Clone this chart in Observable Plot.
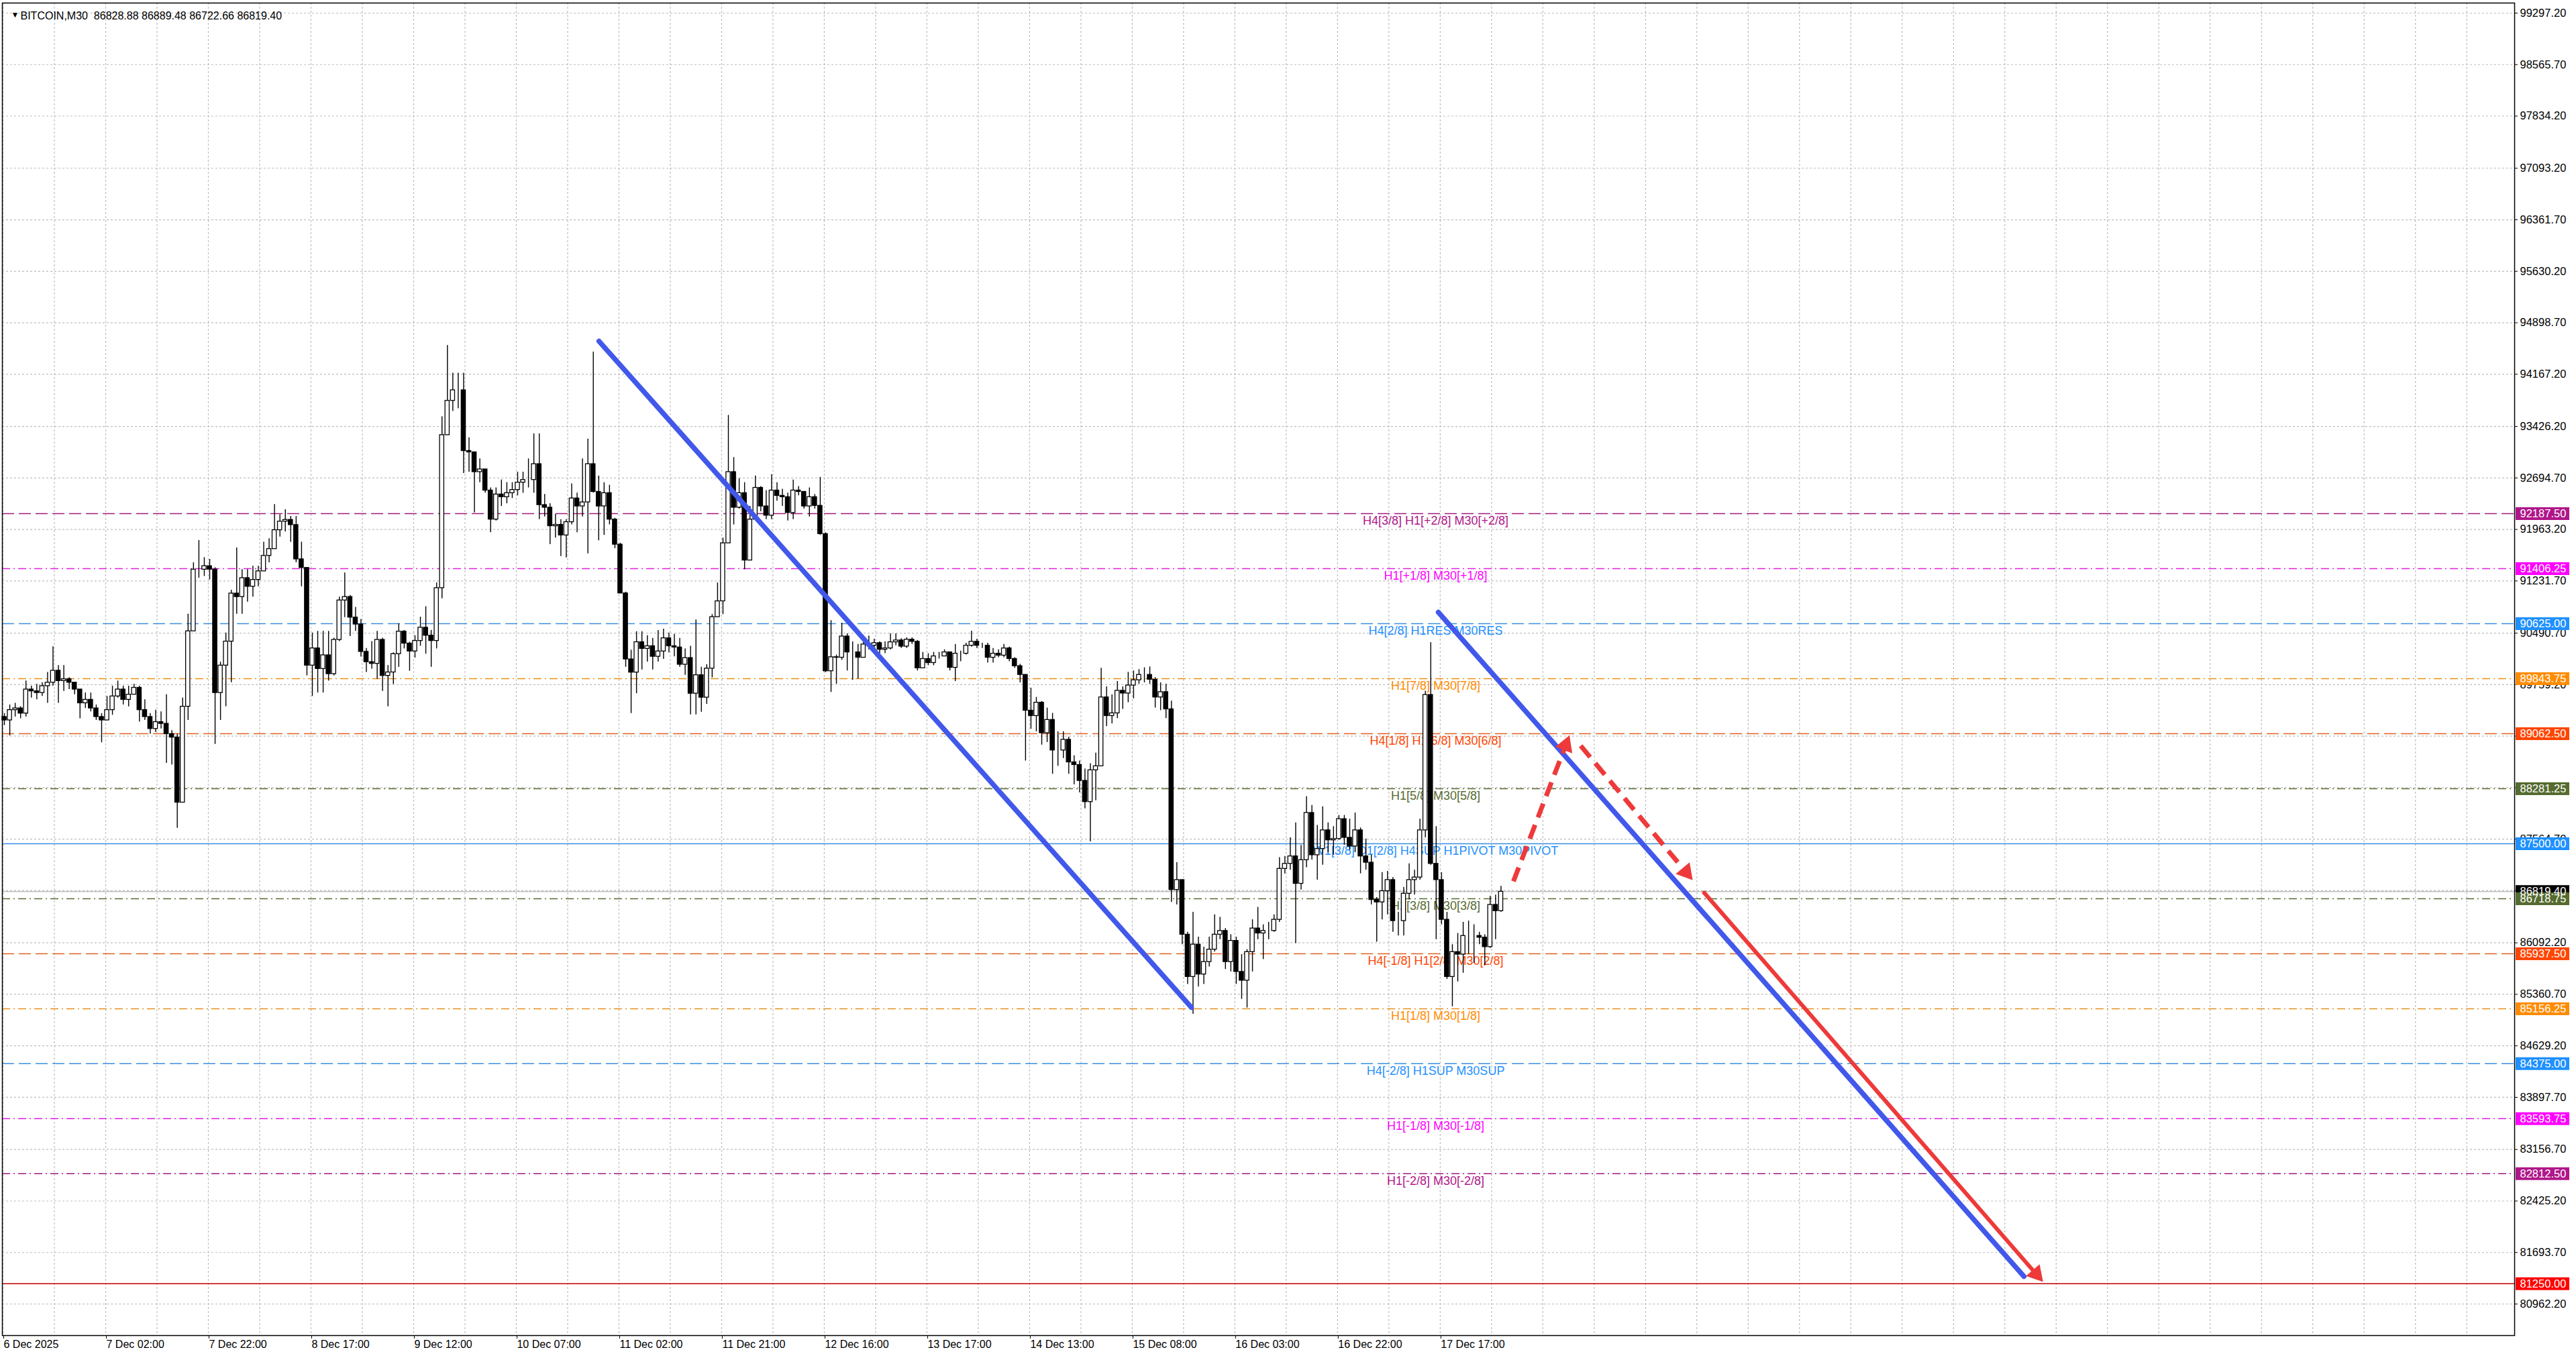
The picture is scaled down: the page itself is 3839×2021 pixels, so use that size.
<!DOCTYPE html>
<html><head><meta charset="utf-8">
<script src="https://cdn.jsdelivr.net/npm/d3@7"></script>
<script src="https://cdn.jsdelivr.net/npm/@observablehq/plot@0.6"></script>
<style>
html,body{margin:0;padding:0;background:#fff;}
body{width:3839px;height:2021px;overflow:hidden;}
</style></head><body><div id="chart"></div>
<script>
// ---------- DATA (H1 candles; open = previous close) ----------
const firstOpen = 89301;
const close = [
89253,89399,89423,89350,89691,89666,89642,89739,89788,89958,
89812,89837,89788,89691,89496,89545,89423,89301,89253,89399,
89593,89691,89545,89618,89715,89399,89301,89131,89228,89204,
89058,89009,88085,89447,90518,91394,91394,91443,91394,89642,
90031,90372,91054,91005,91273,91151,91248,91370,91589,91686,
91954,92076,92100,92027,91540,91418,90031,90275,89983,90177,
89910,90396,90956,91005,90713,90615,90226,90080,90056,90396,
89885,89934,90194,90513,90344,90232,90381,90569,90456,90381,
91131,93304,93791,93941,93941,93079,93060,92779,92817,92517,
92105,92461,92423,92480,92525,92630,92667,92667,92892,92311,
92274,92011,92030,91880,92068,92405,92292,92349,92892,92498,
92292,92480,92105,91749,91056,90119,89932,90363,90269,90306,
90157,90232,90419,90306,90288,90044,90138,89632,89894,89576,
89988,90719,90944,91768,92779,92274,92480,91524,92105,92555,
92292,92161,92517,92442,92423,92199,92517,92498,92292,92423,
92300,91899,89951,90150,90143,90444,90219,90219,90143,90331,
90313,90350,90256,90275,90362,90388,90301,90399,90369,89993,
90125,90068,90162,90162,90219,90000,90200,90200,90313,90369,
90313,90313,90143,90200,90173,90275,90125,90023,89899,89391,
89315,89504,89071,89259,88826,88826,88977,88657,88619,88394,
88093,88544,88601,89579,89315,89353,89673,89635,89748,89823,
89899,89899,89831,89579,89654,89410,86844,86985,86209,85609,
86068,85644,85821,85997,86209,86262,85821,86121,85680,85556,
85962,86297,86227,86262,86262,86421,87144,87215,87321,86932,
87268,87938,87338,87426,87691,87550,87568,87850,87585,87462,
87691,87321,87232,86703,86668,86827,86985,86403,86403,86791,
86985,87021,87691,89614,87215,86985,86421,85609,85962,85927,
86191,86191,86191,86167,86033,86632,86544,86819.4];
const high = [
89350,89472,89496,89447,89812,89739,89764,89788,89934,90299,
90031,90031,89861,89788,89691,89642,89642,89472,89350,89593,
89739,89812,89739,89739,89764,89739,89545,89350,89399,89374,
89618,89107,89058,89569,90761,91492,91808,91565,91540,91420,
90080,90494,91102,91701,91394,91394,91443,91443,91784,91832,
92319,92173,92246,92149,92149,91784,91418,90494,90518,90518,
90518,90421,91005,91346,91029,90859,90688,90275,90372,90518,
90421,90031,90213,90625,90531,90363,90456,90719,90868,90531,
91206,93566,94578,94185,94185,94185,93267,93042,92967,92817,
92555,92555,92667,92630,92630,92779,92779,92967,93323,93323,
92461,92330,92180,92105,92105,92611,92480,92967,93248,94484,
92723,92630,92592,92124,91768,91075,90250,90513,90513,90456,
90419,90531,90550,90494,90475,90419,90269,90306,90681,90007,
90044,90756,91206,91843,93585,92986,92686,92630,92292,92723,
92573,92517,92742,92630,92536,92480,92667,92573,92480,92555,
92461,92704,91918,90670,90181,90633,90482,90369,90331,90407,
90452,90407,90369,90369,90482,90482,90414,90426,90426,90388,
90219,90200,90219,90219,90256,90219,90331,90237,90350,90520,
90407,90350,90350,90275,90256,90331,90294,90143,90049,89899,
89711,89579,89522,89428,89353,89090,89090,89014,88751,88676,
88563,88638,88789,89993,89729,89616,89805,89729,89936,89955,
89974,90000,90012,89861,89786,89767,89526,87232,86985,86244,
86527,86174,86033,86174,86491,86456,86297,86209,86174,85927,
85997,86421,86597,86350,86385,86491,87303,87321,87585,87797,
87479,88168,88044,87762,88026,87797,87744,87903,87903,87850,
87938,87726,87568,87338,86738,87091,87109,87021,86527,86879,
87215,87126,87850,89667,90356,87744,87091,86527,86068,86227,
86385,86403,86350,86244,86209,86756,86774,86897];
const low = [
89180,89034,89301,89277,89301,89569,89545,89593,89496,89739,
89496,89666,89691,89618,89277,89423,89374,89253,88936,89301,
89326,89569,89472,89447,89642,89228,89253,89058,89082,89131,
88644,88620,87720,88085,89253,90713,91273,91297,91248,88912,
89253,89447,89788,90761,90761,90932,91005,91151,91394,91492,
91711,91857,91930,91784,91492,91151,89885,89593,89642,89642,
89812,89885,90372,90713,90445,90518,90153,89934,89983,89837,
89666,89447,89763,90007,90269,89951,90138,90306,90194,90007,
90269,90981,93304,93641,93679,92761,92779,92199,92630,92480,
91918,92086,92292,92330,92405,92442,92480,92555,92480,92105,
92143,91749,91843,91580,91562,92030,91918,92143,91618,92480,
91805,91880,92030,91693,91056,90007,89351,89632,89969,90082,
89969,90082,90119,90213,90157,90007,89894,89332,89332,89370,
89482,89857,90719,90756,91768,92030,92255,91393,91524,92105,
92217,92105,92105,92367,92292,92086,92105,92442,92255,92143,
92255,91880,89932,89650,89767,90106,89955,89823,89842,90143,
90256,90275,90181,90200,90256,90313,90275,90275,90331,89955,
89990,90030,90030,90125,90162,89955,89805,90087,90181,90294,
90275,90275,90068,90068,90143,90143,90087,89993,89786,88676,
89127,89090,88902,88939,88488,88601,88713,88488,88337,88224,
87998,87528,88111,88601,89165,89203,89278,89410,89504,89560,
89767,89786,89767,89428,89391,89278,86668,86632,86068,85503,
85080,85468,85503,85750,85962,86138,85715,85680,85503,85291,
85168,85680,86138,85856,86138,86244,86385,87074,87126,86085,
86844,87162,87268,86985,87197,87374,87338,87550,87479,87409,
87374,87074,87126,86632,86103,86421,86491,86244,86191,86191,
86703,86774,86985,87585,87197,86138,86350,85574,85186,85538,
85662,85927,85803,86068,85768,86015,86138,86527];

const headerSymbol = "BITCOIN,M30";
const headerOHLC = [86828.88, 86889.48, 86722.66, 86819.40];

const yTicks = [99297.20,98565.70,97834.20,97093.20,96361.70,95630.20,94898.70,94167.20,93426.20,
  92694.70,91963.20,91231.70,90490.70,89759.20,89027.70,88296.20,87564.70,86833.20,86092.20,
  85360.70,84629.20,83897.70,83156.70,82425.20,81693.70,80962.20];

const timeLabels = ["6 Dec 2025","7 Dec 02:00","7 Dec 22:00","8 Dec 17:00","9 Dec 12:00","10 Dec 07:00",
  "11 Dec 02:00","11 Dec 21:00","12 Dec 16:00","13 Dec 17:00","14 Dec 13:00","15 Dec 08:00",
  "16 Dec 03:00","16 Dec 22:00","17 Dec 17:00"];
const timeLabelBars = [0,38,76,114,152,190,228,266,304,342,380,418,456,494,532]; // M30 bar index
const gridBars = d3.range(0, 930, 19);

const levelPrices = [92187.50,91406.25,90625.00,89843.75,89062.50,88281.25,87500.00,86718.75,85937.50,85156.25,84375.00,83593.75,82812.50,81250.00];
const levelNames = ["H4[3/8] H1[+2/8] M30[+2/8]","H1[+1/8] M30[+1/8]","H4[2/8] H1RES M30RES","H1[7/8] M30[7/8]",
  "H4[1/8] H1[6/8] M30[6/8]","H1[5/8] M30[5/8]","W1[3/8] D1[2/8] H4SUP H1PIVOT M30PIVOT","H1[3/8] M30[3/8]",
  "H4[-1/8] H1[2/8] M30[2/8]","H1[1/8] M30[1/8]","H4[-2/8] H1SUP M30SUP","H1[-1/8] M30[-1/8]","H1[-2/8] M30[-2/8]",""];
const levelColors = ["#B0168A","#FF00FF","#1E90FF","#FF8C00","#FF4500","#556B2F","#1E90FF","#556B2F","#FF4500","#FF8C00","#1E90FF","#FF00FF","#B0168A","#FF0000"];
const levelLineColors = ["#A0187E","#E020E0","#3A8FE0","#E8901A","#E0601E","#556B2F","#3A8FE0","#556B2F","#E0601E","#E8901A","#3A8FE0","#E020E0","#A0187E","#C00000"];
const levelStyles = ["dash","dashdot","dash","dashdot","dash","dashdot","solid","dashdot","dash","dashdot","dash","dashdot","dashdot","solid"];

// drawn objects: (M30 bar index, price) anchors
const trendBar1 = [220.6, 531.3], trendPrice1 = [94637, 90787];
const trendBar2 = [439.9, 748.1], trendPrice2 = [85174, 81353];
const arrowBar1 = [559.1, 584.0, 629.7], arrowPrice1 = [86966, 88891, 86804];
const arrowBar2 = [579.7, 625.2, 754.9], arrowPrice2 = [89024, 86994, 81287];
const arrowDashed = [true, true, false];

// ---------- LAYOUT ----------
const W = 3839, H = 2021;
const mL = 3, mR = 92, mT = 4, mB = 31;
const xDomain = [-0.25, 929.7];
const yDomain = [80514.3, 99440.1];
const plotW = W - mL - mR, plotH = H - mT - mB;
const kx = plotW / (xDomain[1] - xDomain[0]);
const ky = plotH / (yDomain[1] - yDomain[0]);
const AXIS_FONT = "'Liberation Sans',Arial,sans-serif";
const LABEL_FONT = "'Liberation Sans',Arial,sans-serif";
const BLUE = "#4258EA", RED = "#EE3A3A";
const fmt = d3.format(".2f");

const candles = close.map((c, j) => {
  const o = j === 0 ? firstOpen : close[j - 1];
  return {bar: 2 * j + 0.5, o, c, h: Math.max(high[j], o, c), l: Math.min(low[j], o, c)};
});
const lastBar = candles[candles.length - 1].bar;
const lastClose = close[close.length - 1];
const labelBar = lastBar - 24.2;

const levels = levelPrices.map((p, i) => ({p, name: levelNames[i], color: levelColors[i], line: levelLineColors[i], style: levelStyles[i]}));
const boxes = [{p: lastClose, color: "#000000"}, ...levels.map(d => ({p: d.p, color: d.color}))];

const trends = trendBar1.map((b, i) => ({b1: b, p1: trendPrice1[i], b2: trendBar2[i], p2: trendPrice2[i]}));
const arrows = arrowBar1.map((b, i) => {
  const a = {b1: b, p1: arrowPrice1[i], b2: arrowBar2[i], p2: arrowPrice2[i], dashed: arrowDashed[i]};
  const dx = (a.b2 - a.b1) * kx, dy = -(a.p2 - a.p1) * ky;
  const len = Math.hypot(dx, dy), ux = dx / len, uy = dy / len;
  const back = 14;
  a.hb = a.b2 - ux * back / kx;
  a.hp = a.p2 + uy * back / ky;
  const sb = 16;
  a.sb = a.b2 - ux * sb / kx;
  a.sp = a.p2 + uy * sb / ky;
  a.angle = Math.atan2(dx, -dy) * 180 / Math.PI;
  return a;
});

const labelMap = new Map(timeLabelBars.map((b, i) => [b, timeLabels[i]]));
const header = headerSymbol + "\u00A0\u00A0" + headerOHLC.map(fmt).join(" ");

const chart = Plot.plot({
  width: W, height: H,
  marginLeft: mL, marginRight: mR, marginTop: mT, marginBottom: mB,
  style: {background: "#ffffff", fontFamily: AXIS_FONT, fontSize: "16.5px", color: "#000"},
  x: {type: "linear", domain: xDomain, axis: null},
  y: {type: "linear", domain: yDomain, axis: null},
  color: {type: "identity"},
  marks: [
    Plot.gridY(yTicks, {stroke: "#BDBDBD", strokeOpacity: 1, strokeWidth: 1.2, strokeDasharray: "3,3"}),
    Plot.gridX(gridBars, {stroke: "#BDBDBD", strokeOpacity: 1, strokeWidth: 1.2, strokeDasharray: "3,3"}),
    Plot.ruleY([lastClose], {stroke: "#C0C0C0", strokeWidth: 1.5}),
    Plot.ruleY(levels.filter(d => d.style === "dash"), {y: "p", stroke: "line", strokeWidth: 1.5, strokeDasharray: "18,7"}),
    Plot.ruleY(levels.filter(d => d.style === "dashdot"), {y: "p", stroke: "line", strokeWidth: 1.5, strokeDasharray: "12,5,2,5"}),
    Plot.ruleY(levels.filter(d => d.style === "solid"), {y: "p", stroke: "line", strokeWidth: 1.5}),
    Plot.text(levels.filter(d => d.name), {x: labelBar, y: "p", text: "name", fill: "color", lineAnchor: "top", dy: 4,
      fontSize: 18, fontFamily: LABEL_FONT, textAnchor: "middle"}),
    Plot.ruleX(candles, {x: "bar", y1: "l", y2: "h", stroke: "#000", strokeWidth: 1.4}),
    Plot.rect(candles, {x1: d => d.bar - 0.78, x2: d => d.bar + 0.78, y1: "o", y2: "c",
      fill: d => d.c >= d.o ? "#ffffff" : "#000000", stroke: "#000", strokeWidth: 1.3}),
    Plot.link(trends, {x1: "b1", y1: "p1", x2: "b2", y2: "p2", stroke: BLUE, strokeWidth: 7.5, strokeLinecap: "round"}),
    Plot.link(arrows.filter(d => d.dashed), {x1: "b1", y1: "p1", x2: "sb", y2: "sp", stroke: RED, strokeWidth: 7, strokeDasharray: "22,12"}),
    Plot.link(arrows.filter(d => !d.dashed), {x1: "b1", y1: "p1", x2: "sb", y2: "sp", stroke: RED, strokeWidth: 6, strokeLinecap: "round"}),
    Plot.dot(arrows, {x: "hb", y: "hp", symbol: "triangle", r: 10, fill: RED, stroke: "none", rotate: "angle"}),
    Plot.frame({stroke: "#000", strokeWidth: 1.5}),
    Plot.axisY(yTicks, {anchor: "right", tickSize: 4, tickPadding: 4, tickFormat: fmt, textAnchor: "start", label: null, fontSize: 16.5}),
    Plot.axisX(timeLabelBars, {anchor: "bottom", tickSize: 5, tickPadding: 2, tickFormat: d => labelMap.get(d), textAnchor: "start", dx: 1, label: null, fontSize: 16}),
    Plot.ruleY(boxes, {y: "p", stroke: "color", strokeWidth: 19, insetLeft: plotW + 2, insetRight: -82}),
    Plot.text(boxes, {y: "p", text: d => fmt(d.p), frameAnchor: "right", dx: 8, textAnchor: "start", fill: "#ffffff", fontSize: 16.5}),
    Plot.text(["\u25BC"], {frameAnchor: "top-left", dx: 13, dy: 13, fontSize: 12, fill: "#000", fontFamily: LABEL_FONT}),
    Plot.text([header], {frameAnchor: "top-left", dx: 27, dy: 13, textAnchor: "start", fontSize: 16, fill: "#000", fontFamily: LABEL_FONT})
  ]
});
document.getElementById("chart").appendChild(chart);
</script></body></html>
